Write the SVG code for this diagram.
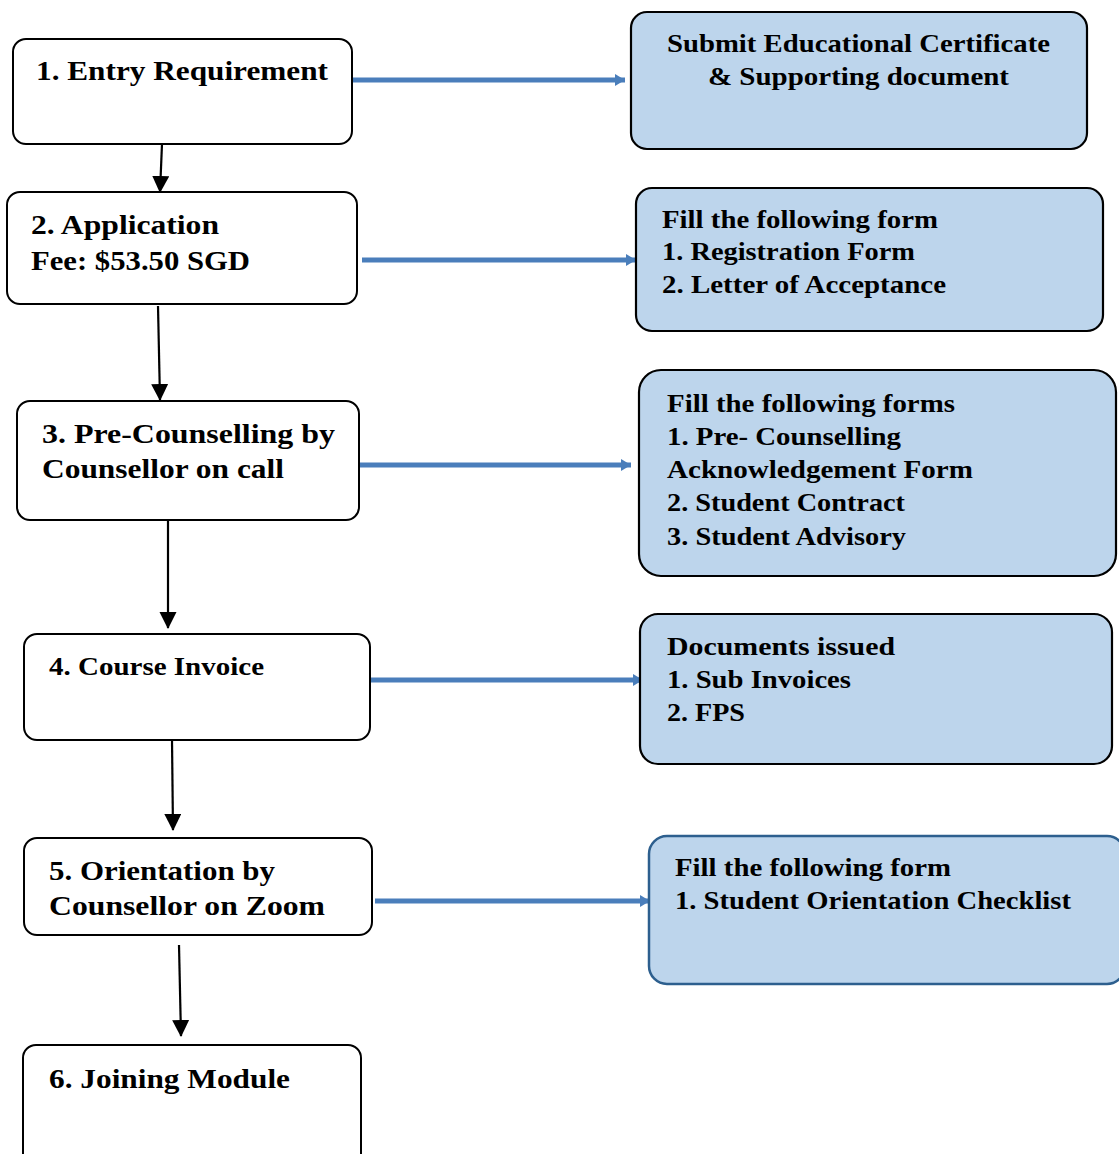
<svg xmlns="http://www.w3.org/2000/svg" width="1119" height="1154" viewBox="0 0 1119 1154">
<style>
.step{fill:#ffffff;stroke:#000000;stroke-width:2}
.info{fill:#bdd5ec;stroke:#000000;stroke-width:2.2}
.info2{fill:#bdd5ec;stroke:#2d5f8e;stroke-width:2.5}
text{font-family:"Liberation Serif","Times New Roman",serif;font-weight:bold;fill:#000000}
.l{font-size:28px}
.s{font-size:25px}
.r{font-size:26px}
.ba{stroke:#4a7ebb;stroke-width:5;fill:none}
.k{stroke:#000000;stroke-width:2.2;fill:none}
</style>
<defs>
<marker id="bh" markerUnits="userSpaceOnUse" markerWidth="12" markerHeight="14" refX="10" refY="7" orient="auto">
<path d="M0,1 L10,7 L0,13 Z" fill="#4a7ebb"/>
</marker>
<marker id="kh" markerUnits="userSpaceOnUse" markerWidth="17" markerHeight="18" refX="16" refY="8.5" orient="auto">
<path d="M0,0 L17,8.5 L0,17 Z" fill="#000000"/>
</marker>
</defs>
<g id="connectors">
<line class="ba" x1="352" y1="80" x2="625" y2="80" marker-end="url(#bh)"/>
<line class="ba" x1="362" y1="260" x2="636" y2="260" marker-end="url(#bh)"/>
<line class="ba" x1="357" y1="465" x2="631" y2="465" marker-end="url(#bh)"/>
<line class="ba" x1="370" y1="680" x2="643" y2="680" marker-end="url(#bh)"/>
<line class="ba" x1="375" y1="901" x2="650" y2="901" marker-end="url(#bh)"/>
<line class="k" x1="162" y1="144" x2="160" y2="192" marker-end="url(#kh)"/>
<line class="k" x1="158" y1="306" x2="160" y2="400" marker-end="url(#kh)"/>
<line class="k" x1="168" y1="518" x2="168" y2="628" marker-end="url(#kh)"/>
<line class="k" x1="172" y1="740" x2="173" y2="830" marker-end="url(#kh)"/>
<line class="k" x1="179" y1="945" x2="181" y2="1036" marker-end="url(#kh)"/>
</g>
<g id="step1"><rect class="step" x="13" y="39" width="339" height="105" rx="13"/>
<text class="l" x="36" y="80" textLength="292" lengthAdjust="spacingAndGlyphs">1. Entry Requirement</text></g>
<g id="step2"><rect class="step" x="7" y="192" width="350" height="112" rx="13"/>
<text class="l" x="31" y="234" textLength="188" lengthAdjust="spacingAndGlyphs">2. Application</text>
<text class="l" x="31" y="270" textLength="219" lengthAdjust="spacingAndGlyphs">Fee: $53.50 SGD</text></g>
<g id="step3"><rect class="step" x="17" y="401" width="342" height="119" rx="13"/>
<text class="l" x="42" y="443" textLength="293" lengthAdjust="spacingAndGlyphs">3. Pre-Counselling by</text>
<text class="l" x="42" y="478" textLength="242" lengthAdjust="spacingAndGlyphs">Counsellor on call</text></g>
<g id="step4"><rect class="step" x="24" y="634" width="346" height="106" rx="13"/>
<text class="s" x="49" y="675" textLength="215" lengthAdjust="spacingAndGlyphs">4. Course Invoice</text></g>
<g id="step5"><rect class="step" x="24" y="838" width="348" height="97" rx="13"/>
<text class="l" x="49" y="880" textLength="226" lengthAdjust="spacingAndGlyphs">5. Orientation by</text>
<text class="l" x="49" y="915" textLength="276" lengthAdjust="spacingAndGlyphs">Counsellor on Zoom</text></g>
<g id="step6"><rect class="step" x="23" y="1045" width="338" height="125" rx="13"/>
<text class="l" x="49" y="1088" textLength="241" lengthAdjust="spacingAndGlyphs">6. Joining Module</text></g>
<g id="info1"><rect class="info" x="631" y="12" width="456" height="137" rx="16"/>
<text class="r" x="667" y="52" textLength="383" lengthAdjust="spacingAndGlyphs">Submit Educational Certificate</text>
<text class="r" x="708" y="85" textLength="301" lengthAdjust="spacingAndGlyphs">&amp; Supporting document</text></g>
<g id="info2"><rect class="info" x="636" y="188" width="467" height="143" rx="16"/>
<text class="r" x="662" y="228" textLength="276" lengthAdjust="spacingAndGlyphs">Fill the following form</text>
<text class="r" x="662" y="260" textLength="253" lengthAdjust="spacingAndGlyphs">1. Registration Form</text>
<text class="r" x="662" y="293" textLength="284" lengthAdjust="spacingAndGlyphs">2. Letter of Acceptance</text></g>
<g id="info3"><rect class="info" x="639" y="370" width="477" height="206" rx="22"/>
<text class="r" x="667" y="412" textLength="288" lengthAdjust="spacingAndGlyphs">Fill the following forms</text>
<text class="r" x="667" y="445" textLength="234" lengthAdjust="spacingAndGlyphs">1. Pre- Counselling</text>
<text class="r" x="667" y="478" textLength="306" lengthAdjust="spacingAndGlyphs">Acknowledgement Form</text>
<text class="r" x="667" y="511" textLength="238" lengthAdjust="spacingAndGlyphs">2. Student Contract</text>
<text class="r" x="667" y="545" textLength="239" lengthAdjust="spacingAndGlyphs">3. Student Advisory</text></g>
<g id="info4"><rect class="info" x="640" y="614" width="472" height="150" rx="18"/>
<text class="r" x="667" y="655" textLength="228" lengthAdjust="spacingAndGlyphs">Documents issued</text>
<text class="r" x="667" y="688" textLength="184" lengthAdjust="spacingAndGlyphs">1. Sub Invoices</text>
<text class="r" x="667" y="721" textLength="78" lengthAdjust="spacingAndGlyphs">2. FPS</text></g>
<g id="info5"><rect class="info2" x="649" y="836" width="476" height="148" rx="18"/>
<text class="r" x="675" y="876" textLength="276" lengthAdjust="spacingAndGlyphs">Fill the following form</text>
<text class="r" x="675" y="909" textLength="396" lengthAdjust="spacingAndGlyphs">1. Student Orientation Checklist</text></g>
</svg>
